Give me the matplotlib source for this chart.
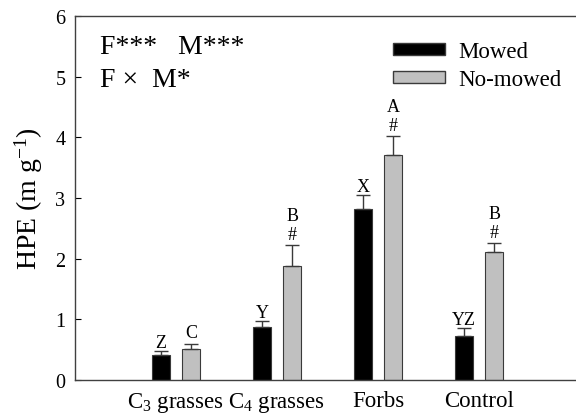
import matplotlib
matplotlib.use("Agg")
import numpy as np
import matplotlib.pyplot as plt
from matplotlib.patches import Patch

# ---------------------- DATA ----------------------
categories = ["C$_3$ grasses", "C$_4$ grasses", "Forbs", "Control"]
mowed = [0.42, 0.87, 2.82, 0.72]
mowed_se = [0.06, 0.10, 0.23, 0.13]
nomowed = [0.51, 1.88, 3.71, 2.11]
nomowed_se = [0.08, 0.34, 0.31, 0.15]
mowed_letters = ["Z", "Y", "X", "YZ"]
nomowed_letters = ["C", "B", "A", "B"]
nomowed_marks = ["", "#", "#", "#"]

plt.rcParams["font.family"] = ["Liberation Serif", "DejaVu Serif"]
plt.rcParams["mathtext.fontset"] = "custom"
plt.rcParams["mathtext.rm"] = "Liberation Serif"
plt.rcParams["mathtext.it"] = "Liberation Serif:italic"

fig = plt.figure(figsize=(5.76, 4.14), dpi=100)
ax = fig.add_axes([75 / 576, 33 / 414, 505 / 576, 364 / 414])

x = np.arange(1, len(categories) + 1)
w = 0.183
off = 0.149
edge = "#3a3a3a"

ax.bar(x - off, mowed, w, color="black", edgecolor=edge, linewidth=0.8,
       yerr=[np.zeros(len(mowed)), mowed_se], ecolor=edge,
       error_kw=dict(capsize=5, elinewidth=1.0, capthick=1.0), label="Mowed")
ax.bar(x + off, nomowed, w, color="#c0c0c0", edgecolor=edge, linewidth=0.8,
       yerr=[np.zeros(len(nomowed)), nomowed_se], ecolor=edge,
       error_kw=dict(capsize=5, elinewidth=1.0, capthick=1.0), label="No-mowed")

# significance letters above bars
LFS = 13
for xi, v, se, lab in zip(x - off, mowed, mowed_se, mowed_letters):
    ax.annotate(lab, (xi, v + se), xytext=(0, 3), textcoords="offset points",
                ha="center", va="baseline", fontsize=LFS)
for xi, v, se, lab, mk in zip(x + off, nomowed, nomowed_se, nomowed_letters, nomowed_marks):
    if mk:
        ax.annotate(mk, (xi, v + se), xytext=(0, 4.5), textcoords="offset points",
                    ha="center", va="baseline", fontsize=LFS)
        ax.annotate(lab, (xi, v + se), xytext=(0, 18), textcoords="offset points",
                    ha="center", va="baseline", fontsize=LFS)
    else:
        ax.annotate(lab, (xi, v + se), xytext=(0, 5), textcoords="offset points",
                    ha="center", va="baseline", fontsize=LFS)

ax.set_xlim(0, 5)
ax.set_ylim(0, 6)
ax.set_xticks(x)
ax.set_xticklabels(categories, fontsize=16.5)
ax.tick_params(axis="x", length=0, pad=7)
ax.set_yticks(range(0, 7))
ax.tick_params(axis="y", direction="in", length=4, labelsize=14.5, pad=7)
ax.set_ylabel("HPE (m g$^{-1}$)", fontsize=20, labelpad=7)

for s in ax.spines.values():
    s.set_color("#404040")
    s.set_linewidth(1.0)

ax.text(0.05, 0.915, "F***   M***", transform=ax.transAxes, fontsize=20,
        ha="left", va="center")
ax.text(0.05, 0.825, "F \u00d7  M*", transform=ax.transAxes, fontsize=20,
        ha="left", va="center")

handles = [Patch(facecolor="black", edgecolor=edge, label="Mowed"),
           Patch(facecolor="#c0c0c0", edgecolor=edge, label="No-mowed")]
ax.legend(handles=handles, loc="upper left", bbox_to_anchor=(0.63, 0.93),
          frameon=False, fontsize=16.5, handlelength=2.27, handleheight=0.44,
          handletextpad=0.57, labelspacing=0.3, borderpad=0, borderaxespad=0)

fig.savefig("out.png", dpi=100)
